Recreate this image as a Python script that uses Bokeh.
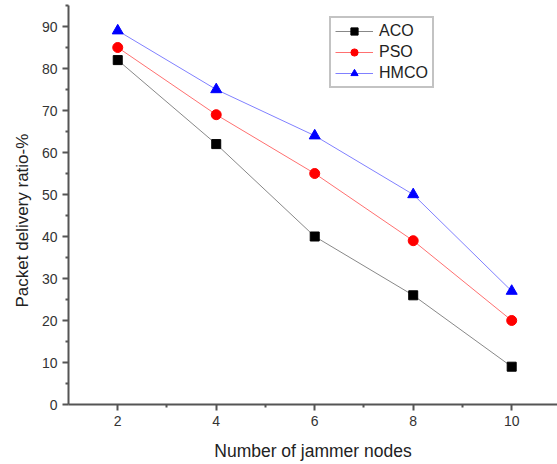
from bokeh.plotting import figure
from bokeh.models import Range1d, FixedTicker, Legend, LegendItem, Title
from bokeh.embed import file_html
from bokeh.resources import INLINE

jammers = [2, 4, 6, 8, 10]
aco = [82, 62, 40, 26, 9]
pso = [85, 69, 55, 39, 20]
hmco = [89, 75, 64, 50, 27]
x_ticks = [2, 4, 6, 8, 10]
x_minor = [3, 5, 7, 9]
y_ticks = [0, 10, 20, 30, 40, 50, 60, 70, 80, 90]
y_minor = [5, 15, 25, 35, 45, 55, 65, 75, 85, 95]

p = figure(width=557, height=464, output_backend="svg", toolbar_location=None,
           x_range=Range1d(1, 10.93), y_range=Range1d(0, 95),
           min_border_left=68, min_border_right=0, min_border_top=5, min_border_bottom=60)
p.xgrid.visible = False
p.ygrid.visible = False
p.outline_line_color = None

font = "Liberation Sans"
for ax in (p.xaxis[0], p.yaxis[0]):
    ax.axis_line_color = "#555555"
    ax.axis_line_width = 2
    ax.major_tick_line_color = "#555555"
    ax.minor_tick_line_color = "#555555"
    ax.major_tick_line_width = 2
    ax.minor_tick_line_width = 2
    ax.major_tick_out = 6
    ax.major_tick_in = 0
    ax.minor_tick_out = 3
    ax.minor_tick_in = 0
    ax.major_label_text_font = font
    ax.major_label_text_font_size = "14px"
    ax.major_label_text_color = "#333333"
    ax.axis_label_text_font = font
    ax.axis_label_text_font_style = "normal"
    ax.axis_label_text_color = "#222222"

p.xaxis.ticker = FixedTicker(ticks=x_ticks, minor_ticks=x_minor)
p.yaxis.ticker = FixedTicker(ticks=y_ticks, minor_ticks=y_minor)
p.xaxis.axis_label = "Number of jammer nodes"
p.xaxis.axis_label_text_font_size = "17.5px"
p.xaxis.axis_label_standoff = 12

ytitle = Title(text="Packet delivery ratio-%", align="left", offset=97,
               text_font=font, text_font_size="17px", text_color="#222222",
               text_font_style="normal", standoff=14)
p.add_layout(ytitle, "left")

l1 = p.line(jammers, aco, line_color="#888888", line_width=1)
s1 = p.scatter(jammers, aco, marker="square", size=9, fill_color="black", line_color="black")
l2 = p.line(jammers, pso, line_color="#ff7070", line_width=1)
s2 = p.scatter(jammers, pso, marker="circle", size=10, fill_color="red", line_color="red")
l3 = p.line(jammers, hmco, line_color="#8080ff", line_width=1)
s3 = p.scatter(jammers, hmco, marker="triangle", size=11, fill_color="blue", line_color="blue")

legend = Legend(items=[
    LegendItem(label="ACO", renderers=[l1, s1]),
    LegendItem(label="PSO", renderers=[l2, s2]),
    LegendItem(label="HMCO", renderers=[l3, s3]),
], location=(261, 316))
legend.label_text_font = font
legend.label_text_font_size = "16px"
legend.label_text_color = "#222222"
legend.border_line_color = "#888888"
legend.border_line_width = 2
legend.glyph_width = 38
legend.glyph_height = 18
legend.spacing = 3
legend.padding = 4
legend.margin = 0
legend.label_standoff = 6
legend.background_fill_alpha = 1
p.add_layout(legend)

open("out.html", "w").write(file_html(p, INLINE))
